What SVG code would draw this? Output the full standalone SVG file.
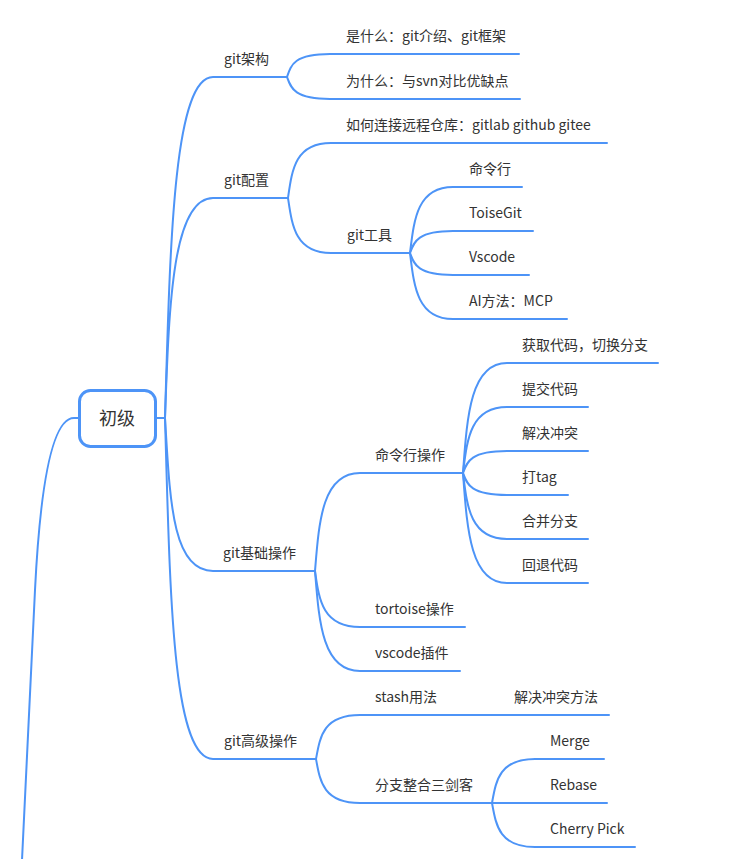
<svg xmlns="http://www.w3.org/2000/svg" width="733" height="859" viewBox="0 0 733 859">
<style>
.l{fill:none;stroke:#4D94F7;stroke-width:2;stroke-linecap:round}
.t{font-family:"Noto Sans CJK SC","Microsoft YaHei","Liberation Sans",sans-serif;font-size:14px;fill:#333}
.r{font-family:"Noto Sans CJK SC","Microsoft YaHei","Liberation Sans",sans-serif;font-size:18px;fill:#333;text-anchor:middle}
</style>
<rect width="733" height="859" fill="#fff"/>
<g id="connectors">
<path class="l" d="M78 418 H74 C55 418 41 470 35 590 L22 860"/>
<path class="l" d="M157 418 H165"/>
<path class="l" d="M165 418 C170 250 173 77 213 77 H287"/>
<path class="l" d="M165 418 C169 308 172 198 213 198 H288"/>
<path class="l" d="M165 418 C170 500 172 571 213 571 H315"/>
<path class="l" d="M165 418 C170 590 172 759 213 759 H316"/>
<path class="l" d="M287 77 C291 65 294 54 330 54 H519"/>
<path class="l" d="M287 77 C291 88 294 99 330 99 H520"/>
<path class="l" d="M288 198 C292 170 295 143 331 143 H607"/>
<path class="l" d="M288 198 C292 225 295 253 331 253 H410"/>
<path class="l" d="M410 253 C414 220 417 187 453 187 H522"/>
<path class="l" d="M410 253 C414 242 417 231 453 231 H533"/>
<path class="l" d="M410 253 C414 264 417 275 453 275 H529"/>
<path class="l" d="M410 253 C414 286 417 319 453 319 H567"/>
<path class="l" d="M315 571 C319 522 322 473 360 473 H463"/>
<path class="l" d="M315 571 C319 599 322 627 360 627 H465"/>
<path class="l" d="M315 571 C319 621 322 671 360 671 H460"/>
<path class="l" d="M463 473 C467 418 470 363 507 363 H658"/>
<path class="l" d="M463 473 C467 440 470 407 507 407 H588"/>
<path class="l" d="M463 473 C467 462 470 451 507 451 H588"/>
<path class="l" d="M463 473 C467 484 470 495 507 495 H568"/>
<path class="l" d="M463 473 C467 506 470 539 507 539 H588"/>
<path class="l" d="M463 473 C467 528 470 583 507 583 H588"/>
<path class="l" d="M316 759 C320 737 323 715 360 715 H492"/>
<path class="l" d="M492 715 H609"/>
<path class="l" d="M316 759 C320 781 323 803 360 803 H492"/>
<path class="l" d="M492 803 C496 781 499 759 535 759 H604"/>
<path class="l" d="M492 803 H607"/>
<path class="l" d="M492 803 C496 825 499 847 535 847 H635"/>
</g>
<g id="root"><rect x="79.5" y="390.5" width="76" height="56" rx="11" fill="#fff" stroke="#4D94F7" stroke-width="3"/><text class="r" x="117" y="424.5">初级</text></g>
<g id="n-arch"><text class="t" x="224" y="64">git架构</text></g>
<g id="n-what"><text class="t" x="346" y="41">是什么：git介绍、git框架</text></g>
<g id="n-why"><text class="t" x="346" y="86">为什么：与svn对比优缺点</text></g>
<g id="n-config"><text class="t" x="224" y="185">git配置</text></g>
<g id="n-remote"><text class="t" x="346" y="130">如何连接远程仓库：gitlab github gitee</text></g>
<g id="n-tools"><text class="t" x="347" y="240">git工具</text></g>
<g id="n-cli"><text class="t" x="469" y="174">命令行</text></g>
<g id="n-toise"><text class="t" x="469" y="218">ToiseGit</text></g>
<g id="n-vscode"><text class="t" x="469" y="262">Vscode</text></g>
<g id="n-ai"><text class="t" x="469" y="306">AI方法：MCP</text></g>
<g id="n-basic"><text class="t" x="223" y="558">git基础操作</text></g>
<g id="n-cliops"><text class="t" x="375" y="460">命令行操作</text></g>
<g id="n-fetch"><text class="t" x="522" y="350">获取代码，切换分支</text></g>
<g id="n-commit"><text class="t" x="522" y="394">提交代码</text></g>
<g id="n-conflict"><text class="t" x="522" y="438">解决冲突</text></g>
<g id="n-tag"><text class="t" x="522" y="482">打tag</text></g>
<g id="n-merge-br"><text class="t" x="522" y="526">合并分支</text></g>
<g id="n-revert"><text class="t" x="522" y="570">回退代码</text></g>
<g id="n-tortoise"><text class="t" x="375" y="614">tortoise操作</text></g>
<g id="n-vsplugin"><text class="t" x="375" y="658">vscode插件</text></g>
<g id="n-adv"><text class="t" x="224" y="746">git高级操作</text></g>
<g id="n-stash"><text class="t" x="375" y="702">stash用法</text></g>
<g id="n-resolve"><text class="t" x="514" y="702">解决冲突方法</text></g>
<g id="n-three"><text class="t" x="375" y="790">分支整合三剑客</text></g>
<g id="n-merge"><text class="t" x="550" y="746">Merge</text></g>
<g id="n-rebase"><text class="t" x="550" y="790">Rebase</text></g>
<g id="n-cherry"><text class="t" x="550" y="834">Cherry Pick</text></g>
</svg>
